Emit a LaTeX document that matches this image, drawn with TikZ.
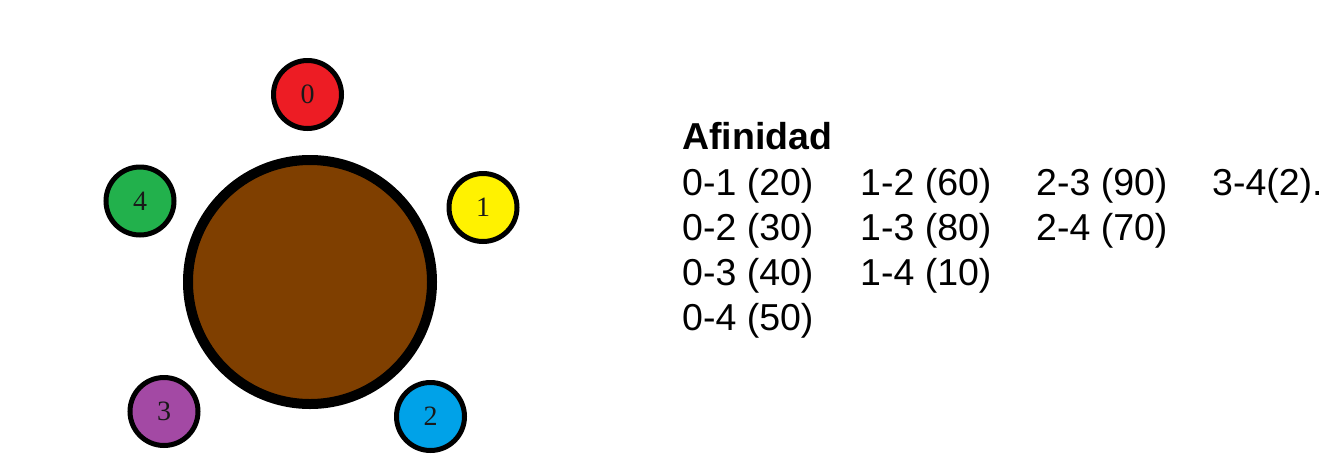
\documentclass[tikz,border=0pt]{standalone}
\usepackage{fontspec}
\setmainfont{Liberation Serif}
\newfontfamily\arialfont{Liberation Sans}
\definecolor{cred}{HTML}{ED1C24}
\definecolor{cyellow}{HTML}{FFF200}
\definecolor{cblue}{HTML}{00A2E8}
\definecolor{cpurple}{HTML}{A349A4}
\definecolor{cgreen}{HTML}{22B14C}
\definecolor{cbrown}{HTML}{7F3F00}
\begin{document}
\begin{tikzpicture}[x=1pt,y=-1pt,
  small/.style={circle,draw=black,line width=5pt,minimum size=68pt,inner sep=0pt,
    font=\fontsize{28}{30}\selectfont,text=black!90},
  legend/.style={anchor=base west,inner sep=0pt,font=\arialfont\fontsize{37.5}{45}\selectfont}]
\useasboundingbox (0,0) rectangle (1320,464);
\fill[white] (0,0) rectangle (1320,464);
\node[circle,draw=black,fill=cbrown,line width=10pt,minimum size=244pt,inner sep=0pt] (big) at (310,282) {};
\node[small,fill=cred] (n0) at (307.5,94.5) {0};
\node[small,fill=cyellow] (n1) at (483,207.5) {1};
\node[small,fill=cblue] (n2) at (430.5,416.5) {2};
\node[small,fill=cpurple] (n3) at (164,411.5) {3};
\node[small,fill=cgreen] (n4) at (140,201) {4};
\node[legend,font=\arialfont\bfseries\fontsize{37.5}{45}\selectfont] (title) at (682,149) {Afinidad};
\node[legend] (a01) at (682,195) {0-1 (20)};
\node[legend] (a02) at (682,240) {0-2 (30)};
\node[legend] (a03) at (682,285) {0-3 (40)};
\node[legend] (a04) at (682,330) {0-4 (50)};
\node[legend] (a12) at (860,195) {1-2 (60)};
\node[legend] (a13) at (860,240) {1-3 (80)};
\node[legend] (a14) at (860,285) {1-4 (10)};
\node[legend] (a23) at (1036,195) {2-3 (90)};
\node[legend] (a24) at (1036,240) {2-4 (70)};
\node[legend] (a34) at (1212,195) {3-4(2).};
\end{tikzpicture}
\end{document}
